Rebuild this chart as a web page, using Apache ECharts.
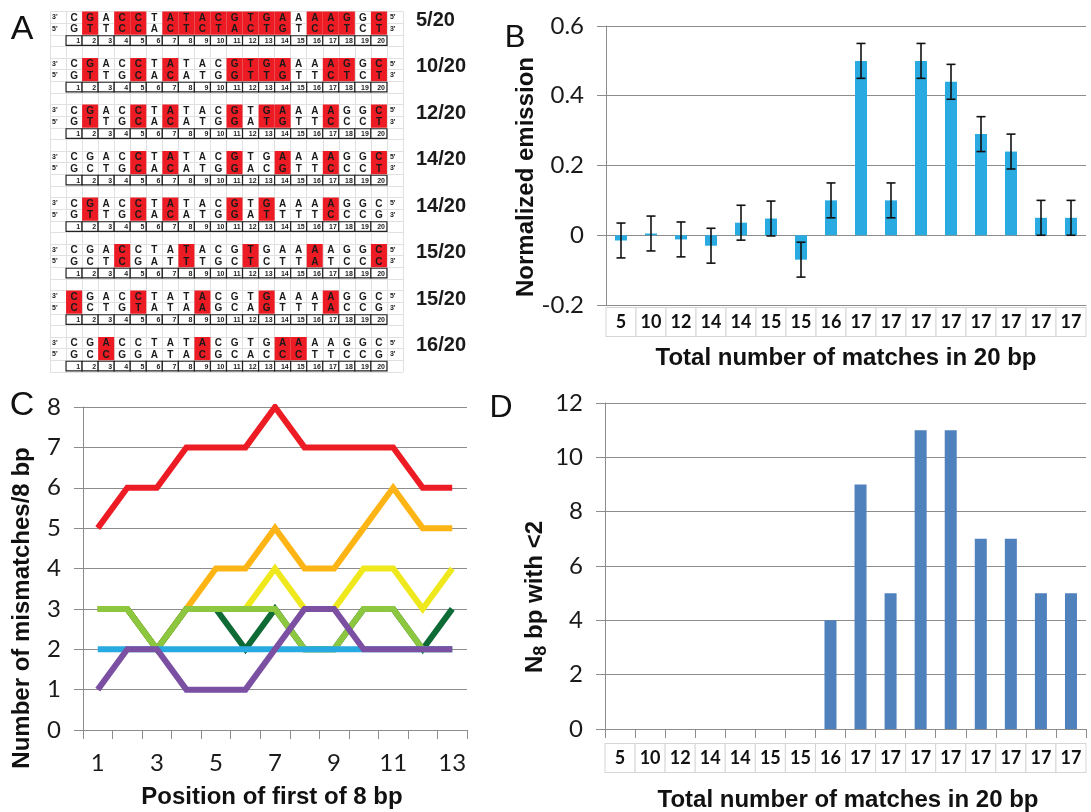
<!DOCTYPE html>
<html>
<head>
<meta charset="utf-8">
<script src="https://cdn.jsdelivr.net/npm/echarts@6/dist/echarts.min.js"></script>
<style>
  html, body { margin: 0; padding: 0; background: #fff; }
  #chart { width: 1091px; height: 812px; }
</style>
</head>
<body>
<div id="chart"></div>
<script>
// ---------- A: the eight 20 bp alignments ----------
const topStrand = 'CGACCTATACGTGAAAAGGC';
const bottomStrands = [
  'GTTCCACTCTACTGTCCTCT',
  'GTTGCACATGGTTGTTCTCT',
  'GTTGCACATGGATGTTCCCT',
  'GCTGCACATGGACGTTCCCT',
  'GTTGCACATGGATTTTCCCG',
  'GCTCGATTTGCTCTTATCCC',
  'CCTGTATAAGCAGTTTACCG',
  'GCCGGATACGCACCCTTCCG'
];
// positions (1-20) drawn in red
const mismatchPos = [
  [2, 4, 5, 7, 8, 9, 10, 11, 12, 13, 14, 16, 17, 18, 20],
  [2, 5, 7, 11, 12, 13, 14, 17, 18, 20],
  [2, 5, 7, 11, 13, 14, 17, 20],
  [5, 7, 11, 14, 17, 20],
  [2, 5, 7, 11, 13, 17],
  [4, 8, 12, 16, 20],
  [1, 5, 9, 13, 17],
  [3, 9, 14, 15]
];
const matchLabels = ['5/20', '10/20', '12/20', '14/20', '14/20', '15/20', '15/20', '16/20'];

// ---------- B: normalized emission ----------
const matchCategories = ['5', '10', '12', '14', '14', '15', '15', '16', '17', '17', '17', '17', '17', '17', '17', '17'];
const emission = [-0.015, 0.005, -0.012, -0.03, 0.036, 0.048, -0.07, 0.1, 0.5, 0.1, 0.5, 0.44, 0.29, 0.24, 0.05, 0.05];
const emissionErr = [0.05, 0.05, 0.05, 0.05, 0.05, 0.05, 0.05, 0.05, 0.05, 0.05, 0.05, 0.05, 0.05, 0.05, 0.05, 0.05];

// ---------- C: mismatches per 8 bp window ----------
const windowPos = ['1', '2', '3', '4', '5', '6', '7', '8', '9', '10', '11', '12', '13'];
const mmRed = [5, 6, 6, 7, 7, 7, 8, 7, 7, 7, 7, 6, 6];
const mmOrange = [3, 3, 2, 3, 4, 4, 5, 4, 4, 5, 6, 5, 5];
const mmYellow = [3, 3, 2, 3, 3, 3, 4, 3, 3, 4, 4, 3, 4];
const mmDarkGreen = [3, 3, 2, 3, 3, 2, 3, 2, 2, 3, 3, 2, 3];
const mmLightGreen = [3, 3, 2, 3, 3, 3, 3, 2, 2, 3, 3, 2, 2];
const mmBlue = [2, 2, 2, 2, 2, 2, 2, 2, 2, 2, 2, 2, 2];
const mmPurple = [1, 2, 2, 1, 1, 1, 2, 3, 3, 2, 2, 2, 2];

// ---------- D: N8 bp with <2 ----------
const n8Counts = [0, 0, 0, 0, 0, 0, 0, 4, 9, 5, 11, 11, 7, 7, 5, 5];

const basePos = ['1', '2', '3', '4', '5', '6', '7', '8', '9', '10', '11', '12', '13', '14', '15', '16', '17', '18', '19', '20'];
const aCols = ["3'"].concat(basePos, ["5'"]);
const aRows = [];
for (let i = 0; i < 31; i++) aRows.push('r' + i);

const RED = '#ED1C24';
const GRID_GRAY = '#8c8c8c';
const TICK_FONT = 'Lato';
const TITLE_FONT = '"Liberation Sans", Arial, sans-serif';

function txt(x, y, text, font, align) {
  return { type: 'text', x: x, y: y, style: { text: text, font: font, fill: '#1a1a1a', align: align || 'center', verticalAlign: 'middle' } };
}

function renderBlock(params, api) {
  const b = params.dataIndex;
  const r0 = api.value(1);
  const size = api.size([1, 1]);
  const cw = size[0], ch = size[1];
  const kids = [];
  const letterFont = 'bold 10px ' + TITLE_FONT;
  for (let c = 1; c <= 20; c++) {
    const pt = api.coord([c, r0]);
    const pb = api.coord([c, r0 + 1]);
    const pn = api.coord([c, r0 + 2]);
    if (mismatchPos[b].indexOf(c) >= 0) {
      kids.push({ type: 'rect', shape: { x: pt[0] - cw / 2, y: pt[1] - ch / 2, width: cw, height: ch * 2 }, style: { fill: RED } });
    }
    kids.push(txt(pt[0], pt[1] + 0.5, topStrand[c - 1], letterFont));
    kids.push(txt(pb[0], pb[1] + 0.5, bottomStrands[b][c - 1], letterFont));
    kids.push({ type: 'rect', shape: { x: pn[0] - cw / 2, y: pn[1] - ch / 2 + 1, width: cw, height: ch - 2 }, style: { fill: '#fff', stroke: '#222', lineWidth: 1.2 } });
    kids.push(txt(pn[0] + cw / 2 - 2, pn[1] + 0.5, basePos[c - 1], 'bold 7px ' + TITLE_FONT, 'right'));
  }
  const lt = api.coord([0, r0]), lb = api.coord([0, r0 + 1]);
  const rt = api.coord([21, r0]), rb = api.coord([21, r0 + 1]);
  const endFont = 'bold 7px ' + TITLE_FONT;
  kids.push(txt(lt[0] - cw / 2 + 2, lt[1], "3'", endFont, 'left'));
  kids.push(txt(lb[0] - cw / 2 + 2, lb[1], "5'", endFont, 'left'));
  kids.push(txt(rt[0] - cw / 2 + 3, rt[1], "5'", endFont, 'left'));
  kids.push(txt(rb[0] - cw / 2 + 3, rb[1], "3'", endFont, 'left'));
  kids.push(txt(rt[0] + cw / 2 + 13, rt[1] + 3, matchLabels[b], 'bold 20px ' + TITLE_FONT, 'left'));
  return { type: 'group', children: kids };
}

function renderErr(params, api) {
  const i = api.value(0);
  const lo = api.coord([i, api.value(1)]);
  const hi = api.coord([i, api.value(2)]);
  const hw = 4.5;
  const st = { stroke: '#111', lineWidth: 1.6 };
  return {
    type: 'group',
    children: [
      { type: 'line', shape: { x1: lo[0], y1: lo[1], x2: hi[0], y2: hi[1] }, style: st },
      { type: 'line', shape: { x1: lo[0] - hw, y1: lo[1], x2: lo[0] + hw, y2: lo[1] }, style: st },
      { type: 'line', shape: { x1: hi[0] - hw, y1: hi[1], x2: hi[0] + hw, y2: hi[1] }, style: st }
    ]
  };
}

const boxLabel = {
  interval: 0, fontFamily: TICK_FONT, fontWeight: 'bold', fontSize: 18, color: '#111',
  width: 29, height: 28, lineHeight: 28, align: 'center',
  borderColor: '#d6d6d6', borderWidth: 1, backgroundColor: '#fff'
};
const valueLabel = { fontFamily: TICK_FONT, fontSize: 24, color: '#1a1a1a', margin: 22 };
const grayLine = { lineStyle: { color: GRID_GRAY, width: 1 } };

const lineSeries = [
  [mmRed, '#ED1C24'], [mmOrange, '#FDB515'], [mmYellow, '#EEE81C'],
  [mmDarkGreen, '#0F6B36'], [mmLightGreen, '#8DC63F'], [mmBlue, '#27AAE1'], [mmPurple, '#7B4FA1']
].map(function (s) {
  return {
    type: 'line', xAxisIndex: 2, yAxisIndex: 2, data: s[0], symbol: 'none',
    lineStyle: { color: s[1], width: 6, join: 'miter' }, itemStyle: { color: s[1] }
  };
});

const chart = echarts.init(document.getElementById('chart'));
chart.setOption({
  animation: false,
  grid: [
    { left: 50, top: 11.5, width: 353, height: 360.4 },
    { left: 606, top: 26, right: 5, bottom: 507 },
    { left: 83, top: 407, width: 384, bottom: 82 },
    { left: 605, top: 403, right: 5, bottom: 83 }
  ],
  xAxis: [
    { gridIndex: 0, type: 'category', data: aCols, axisLine: { show: false }, axisTick: { show: false }, axisLabel: { show: false },
      splitLine: { show: true, interval: 0, lineStyle: { color: '#e0e0e0' } } },
    { gridIndex: 1, type: 'category', data: matchCategories, axisLine: { onZero: false, lineStyle: { color: GRID_GRAY } },
      axisTick: { show: false }, axisLabel: Object.assign({ margin: 3 }, boxLabel) },
    { gridIndex: 2, type: 'category', data: windowPos, axisLine: { lineStyle: { color: GRID_GRAY } },
      axisTick: { show: true, interval: 0, length: 9, lineStyle: { color: GRID_GRAY } },
      axisLabel: { interval: 1, fontFamily: TICK_FONT, fontSize: 24, color: '#1a1a1a', margin: 21 } },
    { gridIndex: 3, type: 'category', data: matchCategories, axisLine: { lineStyle: { color: GRID_GRAY } },
      axisTick: { show: true, interval: 0, length: 9, lineStyle: { color: GRID_GRAY } },
      axisLabel: Object.assign({ margin: 15 }, boxLabel) }
  ],
  yAxis: [
    { gridIndex: 0, type: 'category', data: aRows, inverse: true, axisLine: { show: false }, axisTick: { show: false }, axisLabel: { show: false },
      splitLine: { show: true, interval: 0, lineStyle: { color: '#e0e0e0' } } },
    { gridIndex: 1, type: 'value', min: -0.2, max: 0.6, interval: 0.2,
      axisLine: { show: true, lineStyle: { color: GRID_GRAY } }, axisTick: { show: true, length: 9, lineStyle: { color: GRID_GRAY } },
      splitLine: grayLine,
      axisLabel: Object.assign({ formatter: function (v) { return String(Math.round(v * 10) / 10); } }, valueLabel) },
    { gridIndex: 2, type: 'value', min: 0, max: 8, interval: 1,
      axisLine: { show: true, lineStyle: { color: GRID_GRAY } }, axisTick: { show: true, length: 9, lineStyle: { color: GRID_GRAY } },
      splitLine: grayLine, axisLabel: valueLabel },
    { gridIndex: 3, type: 'value', min: 0, max: 12, interval: 2,
      axisLine: { show: true, lineStyle: { color: GRID_GRAY } }, axisTick: { show: true, length: 9, lineStyle: { color: GRID_GRAY } },
      splitLine: grayLine, axisLabel: valueLabel }
  ],
  series: [
    { type: 'custom', xAxisIndex: 0, yAxisIndex: 0, renderItem: renderBlock,
      data: bottomStrands.map(function (s, b) { return [0, b * 4]; }) },
    { type: 'bar', xAxisIndex: 1, yAxisIndex: 1, data: emission, barWidth: 12, itemStyle: { color: '#29ABE2' } },
    { type: 'custom', xAxisIndex: 1, yAxisIndex: 1, renderItem: renderErr, z: 5,
      data: emission.map(function (v, i) { return [i, v - emissionErr[i], v + emissionErr[i]]; }) }
  ].concat(lineSeries, [
    { type: 'bar', xAxisIndex: 3, yAxisIndex: 3, data: n8Counts, barWidth: 12, itemStyle: { color: '#4F81BD' } }
  ]),
  graphic: [
    { type: 'text', x: 22, y: 30, style: { text: 'A', font: '34px ' + TITLE_FONT, fill: '#111', align: 'center', verticalAlign: 'middle' } },
    { type: 'text', x: 515, y: 38, style: { text: 'B', font: '31px ' + TITLE_FONT, fill: '#111', align: 'center', verticalAlign: 'middle' } },
    { type: 'text', x: 22, y: 406, style: { text: 'C', font: '34px ' + TITLE_FONT, fill: '#111', align: 'center', verticalAlign: 'middle' } },
    { type: 'text', x: 501, y: 408, style: { text: 'D', font: '32px ' + TITLE_FONT, fill: '#111', align: 'center', verticalAlign: 'middle' } },
    { type: 'text', x: 526, y: 177, rotation: Math.PI / 2,
      style: { text: 'Normalized emission', font: 'bold 24px ' + TITLE_FONT, fill: '#111', align: 'center', verticalAlign: 'middle' } },
    { type: 'text', x: 846, y: 358,
      style: { text: 'Total number of matches in 20 bp', font: 'bold 24px ' + TITLE_FONT, fill: '#111', align: 'center', verticalAlign: 'middle' } },
    { type: 'text', x: 22, y: 608, rotation: Math.PI / 2,
      style: { text: 'Number of mismatches/8 bp', font: 'bold 24px ' + TITLE_FONT, fill: '#111', align: 'center', verticalAlign: 'middle' } },
    { type: 'text', x: 272, y: 797,
      style: { text: 'Position of first of 8 bp', font: 'bold 24px ' + TITLE_FONT, fill: '#111', align: 'center', verticalAlign: 'middle' } },
    { type: 'text', x: 535, y: 597, rotation: Math.PI / 2,
      style: {
        text: '{n|N}{s|8}{n| bp with <2}', align: 'center', verticalAlign: 'middle', fill: '#111',
        rich: {
          n: { font: 'bold 24px ' + TITLE_FONT, fill: '#111', lineHeight: 30, verticalAlign: 'middle' },
          s: { font: 'bold 18px ' + TITLE_FONT, fill: '#111', lineHeight: 30, verticalAlign: 'bottom' }
        }
      } },
    { type: 'text', x: 848, y: 800,
      style: { text: 'Total number of matches in 20 bp', font: 'bold 24px ' + TITLE_FONT, fill: '#111', align: 'center', verticalAlign: 'middle' } }
  ]
});
</script>
</body>
</html>
